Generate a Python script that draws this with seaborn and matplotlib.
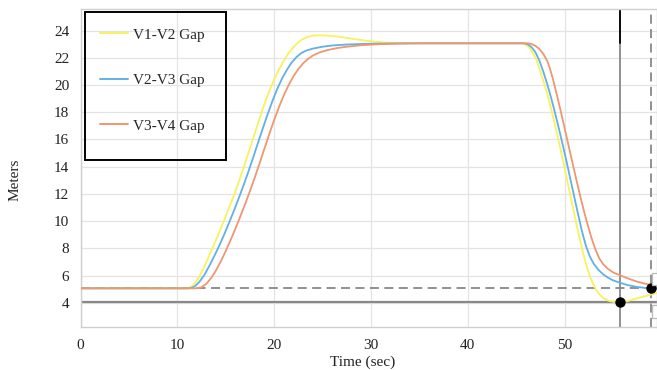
import numpy as np
import pandas as pd
import seaborn as sns
import matplotlib.pyplot as plt
from matplotlib.patches import Rectangle

# values
t_v12 = [0, 5, 10, 11.0, 11.5, 12.0, 12.5, 13.0, 13.5, 14.0, 14.5, 15.0, 15.5, 16.0, 16.5,
         17.0, 17.5, 18.0, 18.5, 19.0, 19.5, 20.0, 20.5, 21.0, 21.5, 22.0, 22.5, 23.0, 23.5,
         24.0, 24.7, 25.5, 26.5, 27.5, 28.5, 29.5, 30.5, 31.5, 33.0, 35, 40, 45.5, 45.9,
         46.3, 46.7, 47.1, 47.5, 47.9, 48.3, 48.7, 49.1, 49.5, 49.9, 50.3, 50.7, 51.1, 51.5,
         51.9, 52.3, 52.7, 53.1, 53.5, 54.0, 54.5, 55.0, 55.73, 56.5, 57.45, 58.5, 59.55]
gap_v12 = [5.06, 5.06, 5.06, 5.06, 5.2, 5.6, 6.25, 7.0, 7.8, 8.62, 9.47, 10.35, 11.25, 12.2, 13.2,
           14.25, 15.35, 16.45, 17.55, 18.6, 19.55, 20.4, 21.15, 21.8, 22.35, 22.8, 23.15, 23.4, 23.55,
           23.63, 23.66, 23.64, 23.57, 23.47, 23.36, 23.26, 23.18, 23.12, 23.08, 23.07, 23.07, 23.07, 23.02,
           22.8, 22.4, 21.85, 21.0, 20.1, 19.1, 18.0, 16.8, 15.55, 14.25, 12.9, 11.55, 10.2, 8.9,
           7.7, 6.65, 5.8, 5.15, 4.7, 4.35, 4.16, 4.07, 4.03, 4.12, 4.32, 4.52, 4.72]

t_v23 = [0, 5, 10, 11.3, 11.8, 12.3, 12.8, 13.3, 13.8, 14.3, 14.8, 15.3, 15.8, 16.3, 16.8,
         17.3, 17.8, 18.3, 18.8, 19.3, 19.8, 20.3, 20.8, 21.3, 21.8, 22.3, 22.8, 23.3, 24.0,
         25.0, 26.0, 27.5, 29.5, 32.0, 35, 40, 45.8, 46.2, 46.6, 47.0, 47.4, 47.8, 48.2,
         48.6, 49.0, 49.4, 49.8, 50.2, 50.6, 51.0, 51.4, 51.8, 52.2, 52.6, 53.0, 53.5, 54.0,
         54.5, 55.0, 55.73, 56.5, 57.45, 58.2, 58.9, 59.55]
gap_v23 = [5.06, 5.06, 5.06, 5.06, 5.2, 5.55, 6.05, 6.7, 7.4, 8.15, 8.95, 9.8, 10.68, 11.6, 12.55,
           13.55, 14.6, 15.68, 16.75, 17.8, 18.78, 19.68, 20.45, 21.1, 21.65, 22.05, 22.35, 22.53, 22.68,
           22.82, 22.91, 22.98, 23.03, 23.06, 23.07, 23.07, 23.07, 23.0, 22.78, 22.4, 21.8, 21.0, 20.1,
           19.1, 18.0, 16.85, 15.65, 14.4, 13.1, 11.8, 10.5, 9.25, 8.2, 7.42, 6.88, 6.42, 6.08,
           5.84, 5.65, 5.47, 5.3, 5.17, 5.1, 5.06, 5.05]

t_v34 = [0, 5, 10, 12.0, 12.5, 13.0, 13.5, 14.0, 14.5, 15.0, 15.5, 16.0, 16.5, 17.0, 17.5,
         18.0, 18.5, 19.0, 19.5, 20.0, 20.5, 21.0, 21.5, 22.0, 22.5, 23.0, 23.5, 24.0, 24.7,
         25.5, 26.5, 27.5, 29.0, 31.0, 33.0, 35, 40, 46.2, 46.6, 47.0, 47.4, 47.8, 48.2,
         48.5, 48.85, 49.2, 49.6, 50.0, 50.4, 50.8, 51.2, 51.6, 52.0, 52.4, 52.8, 53.2, 53.6,
         54.0, 54.5, 55.1, 55.73, 56.5, 57.45, 58.2, 58.9, 59.55]
gap_v34 = [5.06, 5.06, 5.06, 5.06, 5.14, 5.4, 5.82, 6.38, 7.05, 7.8, 8.6, 9.45, 10.33, 11.25, 12.2,
           13.2, 14.25, 15.33, 16.4, 17.43, 18.38, 19.25, 20.0, 20.65, 21.18, 21.6, 21.92, 22.17, 22.4,
           22.57, 22.72, 22.82, 22.93, 23.01, 23.05, 23.07, 23.07, 23.07, 23.02, 22.88, 22.65, 22.3, 21.8,
           21.2, 20.3, 19.3, 18.1, 16.85, 15.6, 14.35, 13.1, 11.9, 10.75, 9.7, 8.72, 7.9, 7.25,
           6.82, 6.48, 6.2, 6.02, 5.8, 5.56, 5.42, 5.31, 5.25]

series_names = ['V1-V2 Gap', 'V2-V3 Gap', 'V3-V4 Gap']
series_colors = ['#F7F25E', '#62B0E4', '#EE9770']

# reference markers
h_solid, h_dashed = 4.03, 5.06
v_solid, v_dashed = 55.73, 58.9
pt_x = [55.73, 58.9]
pt_y = [4.03, 5.06]
x_ticks = [0, 10, 20, 30, 40, 50]
y_ticks = [4, 6, 8, 10, 12, 14, 16, 18, 20, 22, 24]

sns.set_style('white')
plt.rcParams['font.family'] = ['Liberation Serif', 'DejaVu Serif']

fig = plt.figure(figsize=(6.57, 3.70), dpi=100)
ax = fig.add_axes([80.5 / 657, 1 - 326.7 / 370, (657 - 80.5) / 657, (326.7 - 9.3) / 370])

# grid + reference lines underneath
ax.grid(True, color='#e4e4e4', linewidth=0.9)
ax.set_axisbelow(True)
ax.axhline(h_solid, color='#888888', linewidth=1.6, zorder=1)
ax.axhline(h_dashed, color='#888888', linewidth=1.3, linestyle=(0, (5, 3)), zorder=1)
ax.axvline(v_solid, color='#888888', linewidth=1.3, zorder=1)
ax.axvline(v_dashed, color='#888888', linewidth=1.3, linestyle=(0, (5, 3)), zorder=1)
ax.plot([v_solid, v_solid], [23.1, 25.57], color='black', linewidth=1.3, zorder=1)

for t, g, name, c in zip([t_v12, t_v23, t_v34], [gap_v12, gap_v23, gap_v34],
                         series_names, series_colors):
    df = pd.DataFrame({'t': t, 'gap': g})
    sns.lineplot(data=df, x='t', y='gap', ax=ax, color=c, linewidth=1.3,
                 label=name, sort=False, estimator=None, zorder=3)

ax.scatter(pt_x, pt_y, s=42, color='black', zorder=5)

# data-label boxes, clipped at the right edge as in the reference
for y0, h in [(5.30, 0.88), (2.88, 0.95)]:
    ax.add_patch(Rectangle((59.05, y0), 0.9, h, facecolor='white', edgecolor='#bbbbbb',
                           linewidth=0.9, clip_on=False, zorder=6))

ax.set_xlim(0, 59.55)
ax.set_ylim(2.24, 25.57)
ax.set_xticks(x_ticks)
ax.set_yticks(y_ticks)
ax.tick_params(axis='both', labelsize=11, length=0, colors='#222222')
ax.tick_params(axis='x', pad=9)
ax.tick_params(axis='y', pad=8)
for s in ax.spines.values():
    s.set_color('#cfcfcf')
    s.set_linewidth(1.0)

ax.set_xlabel('Time (sec)', fontsize=11, color='#222222')
ax.set_ylabel('Meters', fontsize=11, color='#222222')
ax.xaxis.set_label_coords(0.49, -0.092)
ax.yaxis.set_label_coords(-0.102, 0.462)

leg = ax.legend(loc='upper left', bbox_to_anchor=(100 / 657, 1 - 28 / 370),
                bbox_transform=fig.transFigure, frameon=False, fontsize=11,
                handlelength=1.8, handletextpad=0.35, labelspacing=2.08,
                borderpad=0, borderaxespad=0)
for line in leg.get_lines():
    line.set_linewidth(1.4)
fig.patches.append(Rectangle((85 / 657, 1 - 160 / 370), 141 / 657, 148.3 / 370,
                             transform=fig.transFigure, fill=False,
                             edgecolor='black', linewidth=1.4, zorder=10))

fig.savefig('out.png', dpi=100)
